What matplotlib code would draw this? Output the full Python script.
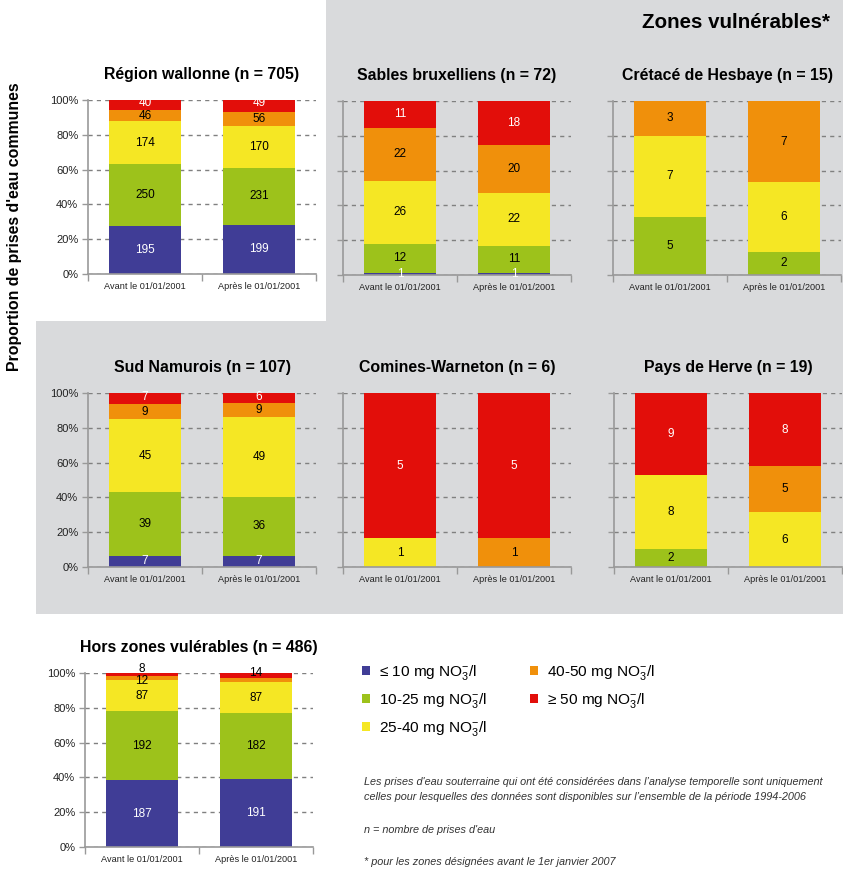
import matplotlib
matplotlib.use("Agg")
import matplotlib.pyplot as plt
from matplotlib import font_manager
from matplotlib.patches import Polygon, Patch

# nombre de prises d'eau par classe de nitrates :
# <=10, 10-25, 25-40, 40-50, >=50 mg NO3-/l
classes = ["≤ 10 mg NO$_3^{-}$/l", "10-25 mg NO$_3^{-}$/l", "25-40 mg NO$_3^{-}$/l",
           "40-50 mg NO$_3^{-}$/l", "≥ 50 mg NO$_3^{-}$/l"]
colors = ["#403d96", "#9dc21b", "#f5e724", "#f0900b", "#e20e0a"]
label_colors = ["white", "black", "black", "black", "white"]
periods = ["Avant le 01/01/2001", "Après le 01/01/2001"]

wallonne_avant = [195, 250, 174, 46, 40]
wallonne_apres = [199, 231, 170, 56, 49]
sables_avant = [1, 12, 26, 22, 11]
sables_apres = [1, 11, 22, 20, 18]
cretace_avant = [0, 5, 7, 3, 0]
cretace_apres = [0, 2, 6, 7, 0]
namurois_avant = [7, 39, 45, 9, 7]
namurois_apres = [7, 36, 49, 9, 6]
comines_avant = [0, 0, 1, 0, 5]
comines_apres = [0, 0, 0, 1, 5]
herve_avant = [0, 2, 8, 0, 9]
herve_apres = [0, 0, 6, 5, 8]
hors_avant = [187, 192, 87, 12, 8]
hors_apres = [191, 182, 87, 12, 14]

# segments dont l'effectif n'est pas affiche
hidden_labels = {("hors", 1, 3)}
# etiquettes decalees (en % de hauteur) pour les petits segments
label_pos = {("hors", 0, 4): 102.3, ("hors", 0, 3): 95.5, ("hors", 1, 4): 100.0,
             ("wallonne", 0, 4): 98.3, ("wallonne", 1, 4): 98.3,
             ("namurois", 0, 4): 97.7, ("namurois", 1, 4): 97.7}
# etiquettes sorties de la barre : en noir
dark_labels = {("hors", 0, 4), ("hors", 1, 4)}

names = {f.name for f in font_manager.fontManager.ttflist}
FONT = "Liberation Sans Narrow" if "Liberation Sans Narrow" in names else "Liberation Sans"
plt.rcParams["font.family"] = [FONT, "DejaVu Sans"]
plt.rcParams["mathtext.fontset"] = "custom"
plt.rcParams["mathtext.rm"] = FONT
plt.rcParams["mathtext.default"] = "regular"

W, H = 843, 872
fig = plt.figure(figsize=(W / 100, H / 100), dpi=100)
fig.patch.set_facecolor("white")

def fx(x):
    return x / W

def fy(y):
    return 1 - y / H

# fond gris des zones vulnerables
bg = Polygon([(fx(326), fy(0)), (fx(843), fy(0)), (fx(843), fy(614)),
              (fx(36), fy(614)), (fx(36), fy(321)), (fx(326), fy(321))],
             closed=True, transform=fig.transFigure, facecolor="#d9dadc",
             edgecolor="none", zorder=-5)
fig.patches.append(bg)

panels = [
    ("wallonne", "Région wallonne (n = 705)", wallonne_avant, wallonne_apres, 88, 100, True),
    ("sables", "Sables bruxelliens (n = 72)", sables_avant, sables_apres, 343, 101, False),
    ("cretace", "Crétacé de Hesbaye (n = 15)", cretace_avant, cretace_apres, 613, 101, False),
    ("namurois", "Sud Namurois (n = 107)", namurois_avant, namurois_apres, 88, 393, True),
    ("comines", "Comines-Warneton (n = 6)", comines_avant, comines_apres, 343, 393, False),
    ("herve", "Pays de Herve (n = 19)", herve_avant, herve_apres, 614, 393, False),
    ("hors", "Hors zones vulérables (n = 486)", hors_avant, hors_apres, 85, 673, True),
]
AW, AH = 228, 174

for key, title, avant, apres, left, top, show_y in panels:
    ax = fig.add_axes([fx(left), fy(top + AH), AW / W, AH / H])
    ax.patch.set_alpha(0)
    ax.set_xlim(0, 2)
    ax.set_ylim(0, 100)
    for b, counts in enumerate([avant, apres]):
        total = sum(counts)
        bottom = 0
        for c, n in enumerate(counts):
            h = n / total * 100
            if n == 0:
                continue
            ax.bar(b + 0.5, h, width=0.625, bottom=bottom, color=colors[c],
                   edgecolor="none", zorder=2)
            if (key, b, c) not in hidden_labels:
                ty = label_pos.get((key, b, c), bottom + h / 2)
                tc = "black" if (key, b, c) in dark_labels else label_colors[c]
                ax.text(b + 0.5, ty, str(n), ha="center", va="center",
                        fontsize=8.5, color=tc, zorder=3)
            bottom += h

    ax.set_yticks(range(0, 101, 20))
    if show_y:
        ax.set_yticklabels([f"{v}%" for v in range(0, 101, 20)])
    else:
        ax.set_yticklabels([])
    ax.yaxis.grid(True, color="#808080", linestyle=(0, (3, 3)), linewidth=1)
    ax.set_axisbelow(True)
    ax.set_xticks([0.5, 1.5])
    ax.set_xticklabels(periods)
    ax.set_xticks([0, 1, 2], minor=True)
    ax.tick_params(axis="x", which="major", length=0, pad=6, labelsize=6.6,
                   labelcolor="#222222")
    ax.tick_params(axis="x", which="minor", length=5, color="#999999", width=1)
    ax.tick_params(axis="y", length=4, color="#999999", width=1, labelsize=8,
                   labelcolor="#222222", pad=3)
    for s in ["top", "right"]:
        ax.spines[s].set_visible(False)
    for s in ["left", "bottom"]:
        ax.spines[s].set_color("#999999")
        ax.spines[s].set_linewidth(1.2)
    ax.set_title(title, fontsize=11.4, fontweight="bold", pad=15)

fig.text(fx(830), fy(22), "Zones vulnérables*", ha="right", va="center",
         fontsize=14.8, fontweight="bold")
fig.text(fx(15), fy(227), "Proportion de prises d'eau communes", rotation=90,
         ha="center", va="center", fontsize=11.4, fontweight="bold")

handles = [Patch(facecolor=col, edgecolor="none") for col in colors]
fig.legend(handles, classes, loc="upper left", bbox_to_anchor=(fx(348), fy(649)),
           ncol=2, frameon=False, fontsize=11.1, handlelength=0.5, handleheight=0.5,
           handletextpad=0.6, labelspacing=0.58, columnspacing=2.8)

notes = [
    (782, "Les prises d'eau souterraine qui ont été considérées dans l’analyse temporelle sont uniquement"),
    (797, "celles pour lesquelles des données sont disponibles sur l’ensemble de la période 1994-2006"),
    (830, "n = nombre de prises d'eau"),
    (862, "* pour les zones désignées avant le 1er janvier 2007"),
]
for y, txt in notes:
    fig.text(fx(364), fy(y), txt, ha="left", va="center", fontsize=7.8,
             style="italic", color="#333333")

fig.savefig("out.png", dpi=100)
